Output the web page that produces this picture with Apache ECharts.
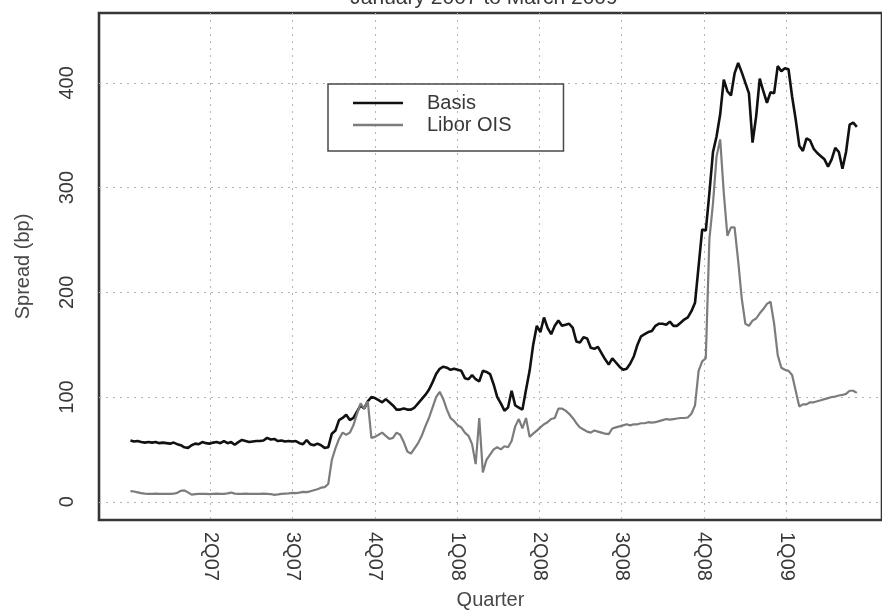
<!DOCTYPE html>
<html>
<head>
<meta charset="utf-8">
<script src="https://cdn.jsdelivr.net/npm/echarts@6/dist/echarts.min.js"></script>
<style>
  html, body { margin: 0; padding: 0; background: #fff; }
  #chart { width: 882px; height: 615px; }
</style>
</head>
<body>
<div id="chart"></div>
<script>
// Spreads in basis points, one reading every 4 calendar days from 2 Jan 2007
const seriesStart = [2007, 1, 2];
const stepDays = 4;

const basis = [
  58.5, 57.5, 58, 57, 56.5, 57, 56.5, 57, 56, 56.5,
  56, 55.5, 56.5, 55, 54, 52, 51.5, 54, 55.5, 55,
  57, 56, 55.5, 56.5, 57, 56, 58, 56, 57, 54.5,
  57, 59, 58, 57, 57.5, 58, 58, 58.5, 61, 59.5,
  60, 58, 58.5, 57.5, 58, 57.5, 58, 56, 55, 59,
  55, 54, 55.5, 54, 51.5, 52, 65, 68, 78, 80,
  83, 78, 80, 86, 92, 89, 96, 100, 99, 97,
  95, 98, 95, 92, 88, 88, 89, 88, 88, 90,
  94, 98, 102, 107, 114, 122, 127, 129, 128, 126,
  127, 126, 125, 118, 117, 121, 117, 115, 125, 124,
  122, 112, 100, 94, 87, 90, 106, 92, 90, 88,
  107, 125, 150, 168, 162, 176, 166, 160, 168, 173,
  168, 169, 170, 166, 153, 152, 157, 156, 147, 146,
  148, 142, 136, 131, 137, 133, 129, 126, 127, 132,
  139, 150, 158, 160, 162, 163, 168, 170, 170, 169,
  172, 168, 168, 171, 174, 176, 182, 190, 225, 260,
  259, 295, 334, 349, 370, 403, 392, 388, 409, 419,
  410, 400, 390, 343, 368, 404, 392, 381, 391, 390,
  416, 411, 414, 413, 387, 365, 340, 335, 347, 345,
  337, 333, 330, 327, 320, 327, 338, 334, 318, 334,
  360, 362, 358
];

const liborOis = [
  10.2, 9.8, 9, 8.2, 7.8, 7.6, 7.6, 7.8, 7.6, 7.6,
  7.5, 7.6, 7.7, 8.5, 10.5, 10.8, 9, 6.8, 7.3, 7.5,
  7.6, 7.6, 7.4, 7.6, 7.7, 7.5, 7.6, 8, 8.8, 7.8,
  7.6, 7.6, 7.7, 7.6, 7.5, 7.6, 7.6, 7.7, 7.6, 7.4,
  6.6, 7, 7.6, 7.8, 8, 8.5, 8.2, 8.8, 9.5, 9.2,
  10, 11, 12, 13.5, 14, 17, 40, 51, 60, 66,
  64, 66, 73, 84, 94, 89, 96, 61, 62, 64,
  66, 63, 60, 61, 66, 64, 57, 48, 46, 51,
  56, 63, 72, 80, 90, 100, 105, 98, 88, 80,
  77, 73, 71, 66, 63, 55, 36, 80, 28, 40,
  45, 50, 52, 50, 53, 52, 58, 72, 79, 70,
  80, 62, 65, 68, 71, 74, 76, 79, 80, 89,
  89, 87, 84, 80, 75, 71, 69, 67, 66, 68,
  67, 66, 65, 64.6, 70, 71, 72, 73, 74, 73,
  74, 74, 75, 75, 76, 75.6, 76, 77, 78, 79,
  78.5, 79, 79.5, 80, 80, 80.5, 84, 92, 125, 134,
  137, 251, 285, 330, 346, 295, 254, 262, 262, 230,
  194, 170, 168, 173, 175, 180, 184, 189, 191, 170,
  140, 128, 126, 125, 121, 106, 91, 93, 93, 95,
  95, 96, 97, 98, 99, 100, 100.5, 101.5, 102, 103,
  106, 106, 104
];

// Quarter boundaries used for the x-axis ticks
const quarterStarts = [
  [2007, 4, 1], [2007, 7, 1], [2007, 10, 1], [2008, 1, 1],
  [2008, 4, 1], [2008, 7, 1], [2008, 10, 1], [2009, 1, 1]
];
const quarterLabels = ['2Q07', '3Q07', '4Q07', '1Q08', '2Q08', '3Q08', '4Q08', '1Q09'];
const yTicks = [0, 100, 200, 300, 400];

// x positions are whole days counted from 1 Jan 2007
const DAY = 86400000;
const dayNum = (y, m, d) => Math.round((Date.UTC(y, m - 1, d) - Date.UTC(2007, 0, 1)) / DAY);
const pointDay = i => dayNum(seriesStart[0], seriesStart[1], seriesStart[2]) + i * stepDays;
const quarterDays = quarterStarts.map(q => dayNum(q[0], q[1], q[2]));

const TEXT = '#383838';
const NAME = '#484848';
const FONT = 'Liberation Sans, Arial, sans-serif';
const gridLine = { show: true, lineStyle: { color: '#b4b4b4', width: 1, type: [2, 5] } };

const chart = echarts.init(document.getElementById('chart'), null, { renderer: 'canvas' });
chart.setOption({
  animation: false,
  backgroundColor: '#ffffff',
  textStyle: { fontFamily: FONT },
  title: {
    text: 'January 2007 to March 2009',
    left: 479,
    textAlign: 'center',
    top: -17,
    textStyle: { fontSize: 21, fontWeight: 'normal', color: TEXT, fontFamily: FONT }
  },
  grid: {
    left: 99, top: 13, width: 788, height: 510,
    show: true, borderColor: '#363636', borderWidth: 2.6, backgroundColor: 'transparent'
  },
  legend: {
    orient: 'vertical',
    left: 328, top: 84,
    padding: [9, 52, 16, 25],
    icon: 'rect',
    itemWidth: 50, itemHeight: 2.5, itemGap: 2,
    borderColor: '#4a4a4a', borderWidth: 1.5,
    textStyle: { fontSize: 20, color: TEXT, lineHeight: 20, padding: [0, 0, 0, 19], fontFamily: FONT },
    data: ['Basis', 'Libor OIS']
  },
  xAxis: {
    type: 'value',
    min: dayNum(2006, 11, 28),
    max: dayNum(2009, 4, 17),
    name: 'Quarter',
    nameLocation: 'middle',
    nameGap: 70,
    nameTextStyle: { fontSize: 20, color: NAME, fontFamily: FONT },
    axisLine: { show: false },
    axisTick: { show: false, customValues: quarterDays },
    axisLabel: {
      customValues: quarterDays,
      rotate: -90,
      margin: 12,
      fontSize: 20,
      color: TEXT,
      fontFamily: FONT,
      formatter: v => {
        const i = quarterDays.indexOf(v);
        return i >= 0 ? quarterLabels[i] : '';
      }
    },
    splitLine: gridLine
  },
  yAxis: {
    type: 'value',
    min: -17.4,
    max: 466.7,
    name: 'Spread (bp)',
    nameLocation: 'middle',
    nameGap: 66,
    nameTextStyle: { fontSize: 20, color: NAME, fontFamily: FONT },
    axisLine: { show: false },
    axisTick: { show: false, customValues: yTicks },
    axisLabel: { customValues: yTicks, rotate: 90, margin: 22, fontSize: 20, color: TEXT, fontFamily: FONT },
    splitLine: gridLine
  },
  series: [
    {
      name: 'Basis',
      type: 'line',
      symbol: 'none',
      lineStyle: { color: '#111111', width: 2.6 },
      itemStyle: { color: '#111111' },
      data: basis.map((v, i) => [pointDay(i), v])
    },
    {
      name: 'Libor OIS',
      type: 'line',
      symbol: 'none',
      lineStyle: { color: '#7c7c7c', width: 2.2 },
      itemStyle: { color: '#7c7c7c' },
      data: liborOis.map((v, i) => [pointDay(i), v])
    }
  ]
});
</script>
</body>
</html>
